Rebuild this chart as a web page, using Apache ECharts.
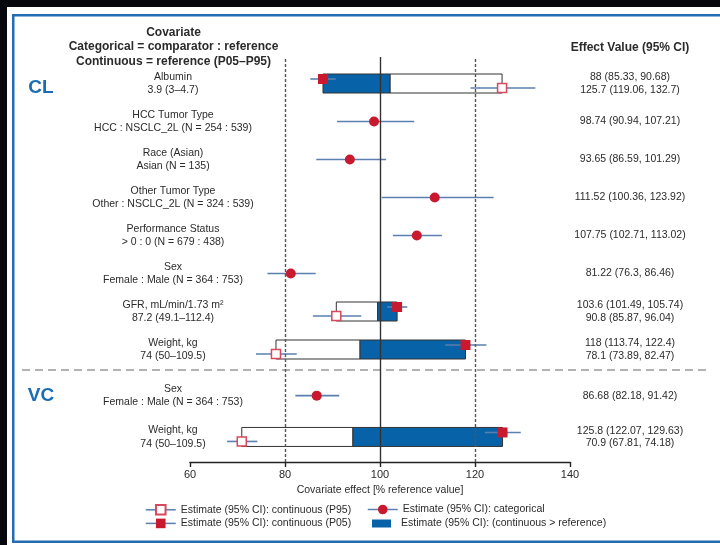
<!DOCTYPE html>
<html>
<head>
<meta charset="utf-8">
<script src="https://cdn.jsdelivr.net/npm/echarts@6/dist/echarts.min.js"></script>
<style>
  html, body { margin: 0; padding: 0; background: #fff; }
  #chart { width: 720px; height: 545px; }
</style>
</head>
<body>
<div id="chart"></div>
<script>
// ---- CL covariates, top to bottom ----
const clNames = ['Albumin', 'HCC Tumor Type', 'Race (Asian)', 'Other Tumor Type', 'Performance Status', 'Sex', 'GFR, mL/min/1.73 m²', 'Weight, kg'];
const clDetails = ['3.9 (3–4.7)', 'HCC : NSCLC_2L (N = 254 : 539)', 'Asian (N = 135)', 'Other : NSCLC_2L (N = 324 : 539)', '> 0 : 0 (N = 679 : 438)', 'Female : Male (N = 364 : 753)', '87.2 (49.1–112.4)', '74 (50–109.5)'];
// [estimate, lower, upper]; null where the row has no such estimate
const clCategorical = [null, [98.74, 90.94, 107.21], [93.65, 86.59, 101.29], [111.52, 100.36, 123.92], [107.75, 102.71, 113.02], [81.22, 76.3, 86.46], null, null];
const clP05 = [[88, 85.33, 90.68], null, null, null, null, null, [103.6, 101.49, 105.74], [118, 113.74, 122.4]];
const clP95 = [[125.7, 119.06, 132.7], null, null, null, null, null, [90.8, 85.87, 96.04], [78.1, 73.89, 82.47]];
// boundary between the filled (P05 side) and open (P95 side) parts of each box
const clSplit = [102.1, null, null, null, null, null, 99.5, 95.8];

// ---- VC covariates ----
const vcNames = ['Sex', 'Weight, kg'];
const vcDetails = ['Female : Male (N = 364 : 753)', '74 (50–109.5)'];
const vcCategorical = [[86.68, 82.18, 91.42], null];
const vcP05 = [null, [125.8, 122.07, 129.63]];
const vcP95 = [null, [70.9, 67.81, 74.18]];
const vcSplit = [null, 94.3];

// ---- x axis ----
const xMin = 60, xMax = 140, xStep = 20;
const refLines = [80, 100, 120];

const FONT = '"Liberation Sans", Arial, sans-serif';
const TEXT = '#2b2b2b';
const RED = '#c8192f';
const CI = '#5b7fae';
const BLUE = '#0862a8';
const EDGE = '#333';
const FRAME = '#236cb2';

const NAME_CAT = 'Estimate (95% CI): categorical';
const NAME_P05 = 'Estimate (95% CI): continuous (P05)';
const NAME_P95 = 'Estimate (95% CI): continuous (P95)';
const NAME_BOX = 'Estimate (95% CI): (continuous > reference)';

function fmt(e) { return e[0] + ' (' + e[1] + ', ' + e[2] + ')'; }
function effectText(cat, p05, p95, i) {
  if (cat[i]) return fmt(cat[i]);
  return fmt(p05[i]) + '\n' + fmt(p95[i]);
}

function ciSeries(rows, grid, off) {
  const data = [];
  rows.forEach((r, i) => { if (r) data.push([r[1], r[2], i]); });
  return {
    type: 'custom', xAxisIndex: grid, yAxisIndex: grid === 1 ? 1 : 3, z: 3, silent: true,
    encode: { x: [0, 1], y: 2 },
    data,
    renderItem(params, api) {
      const p1 = api.coord([api.value(0), api.value(2)]);
      const p2 = api.coord([api.value(1), api.value(2)]);
      const y = p1[1] + off;
      return { type: 'line', shape: { x1: p1[0], y1: y, x2: p2[0], y2: y }, style: { stroke: CI, lineWidth: 1.6 } };
    }
  };
}

function boxSeries(name, pairs, grid, fill) {
  return {
    name, type: 'custom', xAxisIndex: grid, yAxisIndex: grid === 1 ? 1 : 3, z: 2, silent: true,
    itemStyle: { color: fill },
    encode: { x: [0, 1], y: 2 },
    data: pairs,
    renderItem(params, api) {
      const a = api.coord([api.value(0), api.value(2)]);
      const b = api.coord([api.value(1), api.value(2)]);
      const x = Math.min(a[0], b[0]);
      const w = Math.abs(b[0] - a[0]);
      return { type: 'rect', shape: { x: x, y: a[1] - 9.5, width: w, height: 19 }, style: { fill: fill, stroke: EDGE, lineWidth: 1 } };
    }
  };
}

function markerSeries(name, rows, grid, symbol, size, off, style) {
  const data = [];
  rows.forEach((r, i) => { if (r) data.push([r[0], i]); });
  return {
    name, type: 'line', xAxisIndex: grid, yAxisIndex: grid === 1 ? 1 : 3, z: 4, silent: true,
    data, symbol, symbolSize: size, symbolOffset: [0, off], showAllSymbol: true,
    lineStyle: { color: CI, width: 1.5, opacity: 0 },
    itemStyle: style,
    emphasis: { disabled: true }
  };
}

function filledPairs(split, p05) {
  const out = [];
  split.forEach((s, i) => { if (s != null) out.push([s, p05[i][0], i]); });
  return out;
}
function openPairs(split, p95) {
  const out = [];
  split.forEach((s, i) => { if (s != null) out.push([p95[i][0], s, i]); });
  return out;
}

const catStyle = { color: RED, borderWidth: 0 };
const p05Style = { color: RED, borderWidth: 0 };
const p95Style = { color: '#fff', borderColor: '#d9475c', borderWidth: 1.5 };

function groupSeries(grid, cat, p05, p95, split) {
  return [
    boxSeries('open box', openPairs(split, p95), grid, '#fff'),
    boxSeries(NAME_BOX, filledPairs(split, p05), grid, BLUE),
    ciSeries(cat, grid, 0),
    ciSeries(p05, grid, -4.5),
    ciSeries(p95, grid, 4.5),
    markerSeries(NAME_CAT, cat, grid, 'circle', 10, 0, catStyle),
    markerSeries(NAME_P05, p05, grid, 'rect', 10, -4.5, p05Style),
    markerSeries(NAME_P95, p95, grid, 'rect', 9, 4.5, p95Style)
  ];
}

const labelStyle = { fontFamily: FONT, fontSize: 10.5, color: TEXT };

function leftAxis(grid, names, details) {
  return {
    gridIndex: grid, type: 'category', data: names, inverse: true, position: 'left',
    axisLine: { show: false }, axisTick: { show: false },
    axisLabel: Object.assign({ interval: 0, align: 'center', margin: 17, lineHeight: 13.5,
      formatter: (v, i) => v + '\n' + details[i] }, labelStyle)
  };
}
function rightAxis(grid, names, cat, p05, p95) {
  return {
    gridIndex: grid, type: 'category', data: names, inverse: true, position: 'right',
    axisLine: { show: false }, axisTick: { show: false },
    axisLabel: Object.assign({ interval: 0, align: 'center', margin: 60, lineHeight: 12.5,
      formatter: (v, i) => effectText(cat, p05, p95, i) }, labelStyle)
  };
}

const hiddenX = (g) => ({ gridIndex: g, type: 'value', min: xMin, max: xMax, interval: xStep, show: false });

const option = {
  animation: false,
  backgroundColor: '#fff',
  grid: [
    { left: 190, width: 380, top: 57, height: 405 },   // axis + reference lines
    { left: 190, width: 380, top: 64.5, height: 304 }, // CL
    { left: 190, width: 380, top: 375, height: 82.6 }  // VC
  ],
  xAxis: [
    {
      gridIndex: 0, type: 'value', min: xMin, max: xMax, interval: xStep,
      splitLine: { show: false },
      axisLine: { show: true, lineStyle: { color: '#222', width: 1.4 } },
      axisTick: { show: true, inside: false, length: 5, lineStyle: { color: '#222', width: 1.4 } },
      axisLabel: Object.assign({ margin: 7 }, labelStyle, { fontSize: 11 }),
      name: 'Covariate effect [% reference value]',
      nameLocation: 'middle', nameGap: 23,
      nameTextStyle: labelStyle
    },
    hiddenX(1), hiddenX(2)
  ],
  yAxis: [
    { gridIndex: 0, type: 'value', min: 0, max: 1, show: false },
    leftAxis(1, clNames, clDetails),
    rightAxis(1, clNames, clCategorical, clP05, clP95),
    leftAxis(2, vcNames, vcDetails),
    rightAxis(2, vcNames, vcCategorical, vcP05, vcP95)
  ],
  legend: [
    {
      orient: 'vertical', left: 145, top: 504, padding: 0, itemWidth: 30, itemHeight: 12, itemGap: 2.3,
      selectedMode: false, data: [NAME_P95, NAME_P05],
      textStyle: labelStyle, lineStyle: { color: CI, width: 1.5, opacity: 1 }
    },
    {
      orient: 'vertical', left: 367, top: 504, padding: 0, itemWidth: 30, itemHeight: 12,
      selectedMode: false, data: [NAME_CAT],
      textStyle: labelStyle, lineStyle: { color: CI, width: 1.5, opacity: 1 }
    },
    {
      orient: 'vertical', left: 372, top: 518, padding: 0, itemWidth: 19, itemHeight: 8, icon: 'rect',
      selectedMode: false, data: [NAME_BOX],
      itemStyle: { borderWidth: 0 },
      textStyle: Object.assign({ padding: [0, 0, 0, 5] }, labelStyle)
    }
  ],
  graphic: [
    { type: 'rect', shape: { x: 0, y: 0, width: 720, height: 7 }, style: { fill: '#06080d' }, silent: true },
    { type: 'rect', shape: { x: 0, y: 0, width: 7, height: 545 }, style: { fill: '#06080d' }, silent: true },
    { type: 'rect', shape: { x: 12, y: 14, width: 708, height: 2.5 }, style: { fill: FRAME }, silent: true },
    { type: 'rect', shape: { x: 12, y: 14, width: 2.5, height: 529 }, style: { fill: FRAME }, silent: true },
    { type: 'rect', shape: { x: 12, y: 540.5, width: 708, height: 2.5 }, style: { fill: FRAME }, silent: true },
    { type: 'text', x: 173.5, y: 25.5, silent: true,
      style: { text: 'Covariate\nCategorical = comparator : reference\nContinuous = reference (P05–P95)',
        textAlign: 'center', fontFamily: FONT, fontWeight: 'bold', fontSize: 12, lineHeight: 14.3, fill: TEXT } },
    { type: 'text', x: 630, y: 48, silent: true,
      style: { text: 'Effect Value (95% CI)', textAlign: 'center', textVerticalAlign: 'middle',
        fontFamily: FONT, fontWeight: 'bold', fontSize: 12, fill: TEXT } },
    { type: 'text', x: 41, y: 88, silent: true,
      style: { text: 'CL', textAlign: 'center', textVerticalAlign: 'middle', fontFamily: FONT, fontWeight: 'bold', fontSize: 19, fill: '#1a6db4' } },
    { type: 'text', x: 41, y: 396, silent: true,
      style: { text: 'VC', textAlign: 'center', textVerticalAlign: 'middle', fontFamily: FONT, fontWeight: 'bold', fontSize: 19, fill: '#1a6db4' } },
    { type: 'line', silent: true, shape: { x1: 22, y1: 370, x2: 708, y2: 370 },
      style: { stroke: '#999', lineWidth: 1.5, lineDash: [8, 5] } }
  ],
  series: [
    {
      type: 'line', xAxisIndex: 0, yAxisIndex: 0, data: [], z: 1, silent: true,
      markLine: {
        silent: true, symbol: 'none', label: { show: false },
        data: refLines.map(v => ({
          xAxis: v,
          lineStyle: v === 100 ? { color: '#333', width: 1.4, type: 'solid' }
                               : { color: '#555', width: 1.4, type: [3, 2] }
        }))
      }
    },
    ...groupSeries(1, clCategorical, clP05, clP95, clSplit),
    ...groupSeries(2, vcCategorical, vcP05, vcP95, vcSplit)
  ]
};

const chart = echarts.init(document.getElementById('chart'), null, { renderer: 'canvas' });
chart.setOption(option);
</script>
</body>
</html>
